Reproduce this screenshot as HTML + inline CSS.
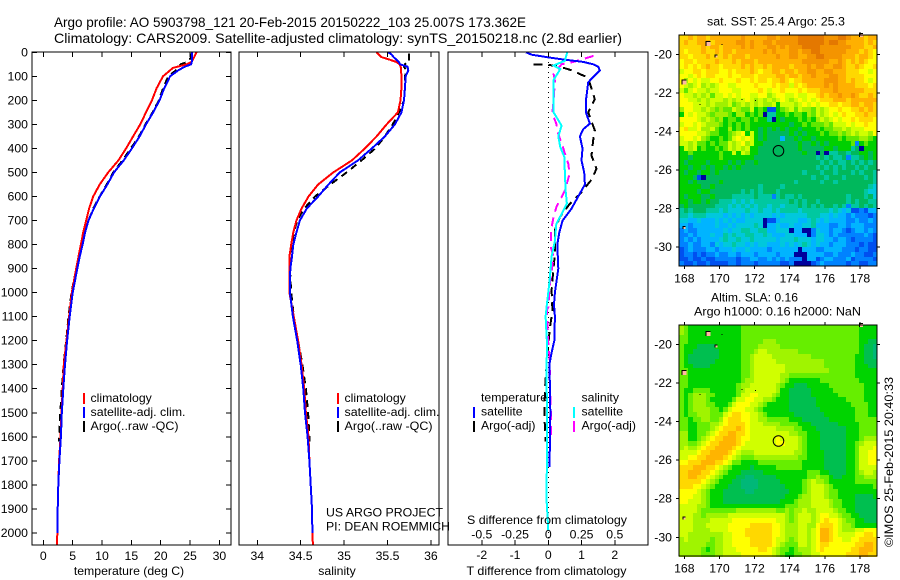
<!DOCTYPE html>
<html>
<head>
<meta charset="utf-8">
<title>Argo profile</title>
<style>
html,body{margin:0;padding:0;background:#fff;}
svg{display:block;}
text{font-family:"Liberation Sans",sans-serif;font-size:12.25px;fill:#000;}
.ttl{font-size:14px;}
.frame{fill:none;stroke:#000;stroke-width:1;shape-rendering:crispEdges;}
.lg{shape-rendering:crispEdges;}
</style>
</head>
<body>
<svg id="chart" width="900" height="580" viewBox="0 0 900 580" xmlns="http://www.w3.org/2000/svg">
<rect x="0" y="0" width="900" height="580" fill="#fff"/>
<g id="maps"></g>
<g id="series"></g>
<g id="axes"></g>

<text class="ttl" x="54" y="27" textLength="472" lengthAdjust="spacingAndGlyphs">Argo profile: AO 5903798_121 20-Feb-2015 20150222_103 25.007S 173.362E</text>
<text class="ttl" x="54" y="43" textLength="568" lengthAdjust="spacingAndGlyphs">Climatology: CARS2009. Satellite-adjusted climatology: synTS_20150218.nc (2.8d earlier)</text>

<text x="129" y="575" text-anchor="middle">temperature (deg C)</text>
<text x="337" y="575" text-anchor="middle">salinity</text>
<text x="466.5" y="575" textLength="160" lengthAdjust="spacingAndGlyphs">T difference from climatology</text>
<text x="467" y="524" textLength="160" lengthAdjust="spacingAndGlyphs">S difference from climatology</text>

<g>
<rect class="lg" x="83" y="393" width="2" height="11" fill="#f00"/>
<rect class="lg" x="83" y="407" width="2" height="11" fill="#00f"/>
<rect class="lg" x="83" y="421" width="2" height="11" fill="#000"/>
<text x="90.5" y="402">climatology</text>
<text x="90.5" y="416" textLength="95" lengthAdjust="spacingAndGlyphs">satellite-adj. clim.</text>
<text x="90.5" y="430" textLength="88" lengthAdjust="spacingAndGlyphs">Argo(..raw -QC)</text>
</g>
<g>
<rect class="lg" x="337" y="393" width="2" height="11" fill="#f00"/>
<rect class="lg" x="337" y="407" width="2" height="11" fill="#00f"/>
<rect class="lg" x="337" y="421" width="2" height="11" fill="#000"/>
<text x="344.5" y="402">climatology</text>
<text x="344.5" y="416" textLength="95" lengthAdjust="spacingAndGlyphs">satellite-adj. clim.</text>
<text x="344.5" y="430" textLength="88" lengthAdjust="spacingAndGlyphs">Argo(..raw -QC)</text>
<text x="326" y="516.5" textLength="117" lengthAdjust="spacingAndGlyphs">US ARGO PROJECT</text>
<text x="326" y="530.5" textLength="124" lengthAdjust="spacingAndGlyphs">PI: DEAN ROEMMICH</text>
</g>
<g>
<text x="481" y="401.5">temperature</text>
<rect class="lg" x="473" y="407" width="2" height="11" fill="#00f"/>
<rect class="lg" x="473" y="421" width="2" height="11" fill="#000"/>
<text x="481" y="415.5">satellite</text>
<text x="481" y="429.5">Argo(-adj)</text>
<text x="581.5" y="401.5">salinity</text>
<rect class="lg" x="573" y="407" width="2" height="11" fill="#0ff"/>
<rect class="lg" x="573" y="421" width="2" height="11" fill="#f0f"/>
<text x="581.5" y="415.5">satellite</text>
<text x="581.5" y="429.5">Argo(-adj)</text>
</g>

<text x="707" y="25.5" textLength="138" lengthAdjust="spacingAndGlyphs">sat. SST: 25.4  Argo: 25.3</text>
<text x="711" y="301.5" textLength="87" lengthAdjust="spacingAndGlyphs">Altim. SLA: 0.16</text>
<text x="694" y="315.5" textLength="167" lengthAdjust="spacingAndGlyphs">Argo h1000: 0.16 h2000: NaN</text>
<text transform="translate(893,547) rotate(-90)" textLength="170" lengthAdjust="spacingAndGlyphs" x="0" y="0">©IMOS 25-Feb-2015 20:40:33</text>

<script>
/* ---------- profile data ---------- */
const climDepth = [0,10,20,30,40,50,65,100,150,200,250,300,350,400,450,500,550,600,650,700,750,800,850,900,1000,1100,1200,1300,1400,1500,1600,1700,1800,1900,2000,2050];
const tempClim = [26.1,25.9,25.7,25.5,25.2,24.4,22.1,20.4,19.3,18.5,17.5,16.5,15.3,14.1,12.8,11.05,9.6,8.5,7.8,7.3,6.8,6.4,6.0,5.6,4.85,4.4,3.95,3.5,3.3,3.1,2.95,2.7,2.55,2.45,2.4,2.3];
const salClim = [35.375,35.4,35.43,35.52,35.6,35.64,35.655,35.66,35.66,35.65,35.62,35.49,35.375,35.24,35.09,34.875,34.7,34.59,34.51,34.45,34.415,34.39,34.37,34.37,34.37,34.42,34.47,34.51,34.54,34.56,34.59,34.6,34.615,34.63,34.635,34.64];

const satDepth = [0,10,20,30,40,50,60,75,100,150,200,250,300,350,400,450,500,550,600,650,700,750,800,850,900,1000,1100,1200,1300,1400,1500,1600,1700,1800,1900,2000];
const tempSat = [25.3,25.3,25.3,25.3,25.3,25.2,24.1,23.0,21.6,20.6,19.8,18.7,17.5,16.4,15.1,13.7,12.05,10.9,9.65,8.6,7.7,7.1,6.7,6.2,5.8,5.0,4.5,4.05,3.7,3.4,3.15,3.0,2.75,2.55,2.45,2.4];
const salSat = [35.51,35.55,35.57,35.6,35.63,35.645,35.73,35.74,35.71,35.7,35.69,35.66,35.585,35.47,35.32,35.16,34.95,34.82,34.7,34.57,34.49,34.45,34.415,34.4,34.38,34.375,34.41,34.46,34.5,34.53,34.55,34.58,34.6,34.615,34.63,34.635];

const argoDepth = [4,20,40,50,60,75,100,150,200,260,300,350,400,450,500,550,600,650,700,750,800,900,1000,1100,1200,1300,1400,1500,1600,1620];
const tempArgo = [25.3,25.2,24.6,23.4,23.0,22.6,21.3,20.4,19.7,18.4,17.4,16.3,14.9,13.5,11.9,10.8,9.6,8.5,7.7,7.1,6.6,5.6,4.8,4.3,3.9,3.45,3.15,2.9,2.7,2.65];
const salArgo = [35.75,35.75,35.75,35.7,35.69,35.72,35.7,35.7,35.69,35.62,35.56,35.47,35.36,35.2,35.03,34.84,34.665,34.54,34.46,34.42,34.4,34.375,34.39,34.42,34.47,34.52,34.56,34.585,34.6,34.6];

/* ---------- difference data ---------- */
const tDiffSatDepth = [0,10,20,30,40,50,60,75,100,125,150,200,250,297,320,350,400,450,500,550,600,650,700,750,800,900,1000,1050,1100,1200,1250,1300,1400,1500,1600,1700,1725];
const tDiffSat = [-0.67,-0.5,-0.05,0.45,1.05,1.35,1.5,1.55,1.37,1.2,1.18,1.13,1.13,1.25,1.05,0.95,1.03,1.0,1.08,1.1,0.9,0.7,0.43,0.33,0.27,0.3,0.2,0.17,0.2,0.18,0.1,0.03,0.05,0.06,0.05,0.04,0.04];
const tDiffArgoDepth = [50,52,60,75,100,110,150,195,250,325,366,430,485,530,590,630,685,740,840,905,990,1060,1073,1143,1213,1300,1400,1500,1600,1620];
const tDiffArgo = [-0.45,0,0.35,0.7,1.1,1.2,1.3,1.4,1.2,1.4,1.35,1.3,1.45,1.3,0.95,0.65,0.35,0.2,0.2,0.15,0.1,0.12,0.13,0.05,0,-0.05,-0.1,-0.12,-0.09,-0.09];
const sDiffArgoDepth = [15,40,50,90,120,200,255,297,340,395,465,505,575,645,685,740,815,850,975,1060,1073,1213,1270,1400,1515,1610];
const sDiffArgo = [0.34,0.19,0.1,0.04,0.05,0.04,0.03,0.06,0.075,0.11,0.15,0.16,0.125,0.06,0.04,0.02,0.02,0.04,0.01,0,-0.01,0,0.01,0.0125,0.02,0.02];
const sDiffSatDepth = [0,5,35,55,70,115,185,250,305,350,395,435,505,575,630,715,785,850,950,1060,1100,1213,1310,1587,1865,1990];
const sDiffSat = [0.14,0.14,0.125,0.04,0.09,0.04,0.04,0.04,0.1,0.075,0.09,0.12,0.125,0.13,0.14,0.06,0.05,0.025,0.01,-0.0125,-0.02,-0.01,-0.0125,-0.01,-0.0125,0];

/* ---------- tick labels ---------- */
const tempTicks = [0,5,10,15,20,25,30];
const salTicks = [34,34.5,35,35.5,36];
const tDiffTicks = [-2,-1,0,1,2];
const sDiffTicks = [-0.5,-0.25,0,0.25,0.5];
const depthTicks = [0,100,200,300,400,500,600,700,800,900,1000,1100,1200,1300,1400,1500,1600,1700,1800,1900,2000];
const lonTicks = [168,170,172,174,176,178];
const latTicks = [-20,-22,-24,-26,-28,-30];

/* ---------- SST map: one colour-class digit per 0.25 degree cell ---------- */
const sstGrid = [
"ccdcd dcddd dddde ddddd eedee eefff fffee effed ddcdd",
"cdccd ddcdd dddee dedde edeee eefff fffef feedd ddcdc",
"ccccc dcddc dddde deddd eeded eeeff ffeee eeeed ddccd",
"cbccc dccdc ddcdd dddde deddd eedee ffeee eeedd dcdcb",
"ccbcc cdccc dcddd cdddd ddedd eedde effee eeddd cddcb",
"bccbc cccdc ccdcd ddcdd ddddd dddee eeeed dedcd cdcbb",
"bcbcb cdccb ccccd cdccd cdddd cddde deedd eedcc dcbbc",
"abbcc bcccb bcbcc cdcbc cddcd dcdde eddee dddcc cbbab",
"bbabc bccbb bcbbc ccbcc ccddc ddcdd eddde eddcc ccbbb",
"b9bab aabbc bbbcb bcbcc bccdc bccdd dddee eddcd ccbab",
"ba9ab 9a9ab baabb bbcbb bcbcc acbcd ddded edddd cccbc",
"a8aba a9aab bbaab bbbcb abbcb bbcbc ccddd edddd ddccc",
"baa9a 9a8aa babab baabb 9abba abaab bcdcd dedde dccdc",
"bbaa9 a9aaa 9a9aa ba9a9 a9aba 9abab abccc dddcd ddddd",
"bbbaa a9a99 9a89a 9a9a9 9a7aa a9aba babbc cbccd dcddc",
"9bbaa 9a989 88a98 8a787 11789 a8a99 8a9ab bcbbc cdcdc",
"7baba a9899 98799 78780 55778 78879 8a9ab abcbb ccdcc",
"bbbba 9a989 78878 87877 50767 77878 79a9a babbc bcccb",
"abbab a9998 78787 87777 77777 67787 88898 aaaba bbcbb",
"bcaab 99a87 79787 87767 67676 77677 78788 99a9a aabbb",
"bbbba a9887 789ab 7a767 66666 76767 77878 8989a 9aa9b",
"abbab 98778 78aba ba767 66636 67677 67777 78788 89987",
"aa9a8 87878 8a9ab 9a776 66666 66766 76767 77778 27877",
"7a9a7 87787 8a9a9 a7766 66666 66766 66677 67775 60777",
"77877 77778 77a7a 97766 66666 66676 60605 56656 67767",
"77677 77778 77777 77666 66666 66666 65656 55625 56767",
"76777 76777 76767 66766 66666 66666 66565 65565 65656",
"77677 67677 67676 66666 66666 66666 65656 56566 56566",
"76776 77676 66666 66666 66666 66656 66566 56665 65665",
"77761 06666 66666 66666 66666 66666 56656 66566 66565",
"77676 66667 66666 66666 66666 65666 66566 56666 66665",
"77777 66766 66666 66656 66656 66666 66666 66666 66654",
"77776 77666 66665 65656 66566 66666 66666 66666 66544",
"76777 66766 66555 55655 52565 56566 66666 66656 66564",
"77677 67665 55454 54555 55555 65656 65666 66656 56655",
"67666 66655 54545 45455 45545 55656 56566 56525 56565",
"56566 65554 54444 54454 45455 55455 55554 54341 12133",
"55455 54444 34343 43444 43434 44445 55443 43323 22212",
"44334 33343 43433 44440 11344 44334 54343 33322 32232",
"33233 33343 34344 44540 33433 43344 53332 23323 33222",
"23223 33333 43445 54455 33444 03300 24332 33212 33232",
"22323 33433 54544 55445 43334 43330 24432 32222 22321",
"23232 33334 54454 45444 44344 45444 34433 23321 22221",
"22322 33243 44544 34344 33343 43454 34332 33322 21211",
"12322 23323 33433 43333 23333 33033 32233 33222 12211",
"12212 12232 23323 33233 33233 30003 33322 32223 22112",
"11211 21122 22212 23322 32323 22203 31233 22231 22221",
"21121 12111 12212 22122 22211 20000 12322 22212 21122"
];

/* ---------- SLA map ---------- */
const slaGrid = [
"98777 77777 77778 88888 88888 88888 88888 88888 87777",
"98777 77777 77778 88888 88888 88888 88888 88888 87777",
"88777 77777 77778 88888 88888 88888 88888 88888 87777",
"88777 77777 77778 88889 99888 88888 88888 88888 87766",
"87776 66677 77778 88899 99988 88888 88888 88888 87665",
"87766 66667 77778 889aa 99999 99888 88888 88888 87665",
"87666 66667 77778 89aaa a9999 99999 88888 88888 77665",
"87666 66677 77778 89aaa aa999 99999 99988 88888 77666",
"87766 66777 77778 89aaa aaaa9 99999 99988 88888 77766",
"88777 77777 77778 89aaa aaaa9 99999 99998 88888 77777",
"88777 77777 77778 89aaa aaa99 88888 88888 88888 77777",
"88777 77777 77778 99aaa aaa98 77777 77888 88888 87777",
"88777 77777 77789 9aaaa aa987 76667 77778 88888 88777",
"87788 88777 77789 aaaaa aa977 66666 77777 88888 88777",
"87899 98877 7778a abbaa a9877 66666 77777 78888 88777",
"87899 98777 778aa bbaa9 98777 66666 67777 77788 88777",
"87899 98877 78abb baa98 77777 66666 67777 77778 88877",
"87899 99887 8abbb aa987 77777 66666 66777 77777 88877",
"87889 99888 abccb baa98 77777 76666 66677 77777 88877",
"88788 99889 bcccb baa99 88888 77766 66667 77777 88888",
"88778 8899a bcccc baaa9 99988 88777 66666 67777 78888",
"88778 889ab cccdc baaaa aa999 98877 76666 66677 78888",
"99778 89abc cddcc baaaa aaaaa 99887 77666 66677 78888",
"99778 9abcc dddcb baaaa aabaa aa987 77666 66677 78999",
"99889 abccd dddcb aaaaa aabba aa987 77666 66677 89aaa",
"9a99a bccdd ddcba aaaaa aaaaa aa987 77666 66677 8aaab",
"aaaab ccddd dcba9 99aaa aaaaa a9987 77766 66677 8aabb",
"aabbc cdddd cba98 88999 99999 99887 77766 66677 8aabb",
"bbccc dddcc ba887 77788 88888 88877 77766 66677 8aabb",
"cccdd dccba 98777 76777 77888 88877 77766 66677 8aaaa",
"ccddd ccba9 87776 66667 77777 77778 88776 66677 89aa9",
"ccddc cba98 77766 55666 66777 77778 89887 66777 88999",
"ccccc ba987 77665 55566 66677 77789 a9987 77777 88888",
"cccbb a9877 76665 55566 66667 77789 aaa98 77777 77778",
"bbbba 98777 66666 55666 66666 77789 aaa98 87777 77777",
"bbbaa 98777 66666 66666 66667 77899 aaa98 87777 66667",
"bbaaa 98777 66666 66666 66677 78999 aaaa9 88777 66666",
"aaaa9 98777 77777 77777 77778 88999 aaaa9 88777 66666",
"aaaa9 88888 88899 99999 99889 899a9 9aaaa 98877 66666",
"aaa99 89999 9aaaa aaaaa aaaa9 89aaa 9abba a9887 76666",
"aaa99 99aaa aabbb bbbbb bbaa9 89aaa 9abcb ba988 77666",
"aaa99 9aaaa abbbb bcccc cbba9 99aa9 9bccc ba998 77777",
"aaa99 99aaa abbbb ccccc cbba9 99aa9 abddc ba999 aabbb",
"aa999 99999 aabbb ccccc cbba9 99aa9 abddc baaaa bbccb",
"9a999 99899 aabbb bcccc cbaa9 89aa9 abddc bbaab bcccc",
"99999 98899 aabbb bcccc cba98 88aa9 abccb bbbbb ccddc",
"99999 87899 aaabb bbbcc ba988 78999 abcbb bbbbc cdddc",
"99999 88899 aaaab bbbbb ba987 78899 aabbb bbbcc cddcc"
];

/* ---------- map annotations: islands and profile location ---------- */
const islandLon = [169.4,168.05,169.85,168.05,178.1,171.35,172.1,168.95,170.2];
const islandLat = [-19.5,-21.5,-20.15,-29.05,-19.05,-22.4,-22.45,-22.65,-19.55];
const islandSize = [5,5,3,3,4,1,1,1,1];
const profileLon = 173.36;
const profileLat = -25.01;

/* ---------- colour classes ---------- */
const sstPalette = {
  '0':'#00009c','1':'#0050f0','2':'#0082ff','3':'#00b4ff','4':'#00c8dc','5':'#00c8a0','6':'#00b85c','7':'#00d000',
  '8':'#60e800','9':'#a0f000','a':'#d0ff00','b':'#ffff00','c':'#ffd800','d':'#ffb000','e':'#f49400','f':'#e47800'
};
const slaPalette = {
  '5':'#00b878','6':'#00bf50','7':'#00d400',
  '8':'#66ee00','9':'#a0f400','a':'#d0ff00','b':'#ffff00','c':'#ffd800','d':'#ffb400','e':'#f49400'
};

/* ---------- axis functions ---------- */
const xTemp = v => 43.3 + 5.87 * v;
const xSal = v => 257.3 + 86.8 * (v - 34);
const xTDiff = v => 548.3 + 33.25 * v;
const xSDiff = v => 548.3 + 133 * v;
const yDepth = d => 52.3 + 0.2403 * d;
const xLon = v => 684.3 + 17.57 * (v - 168);
const ySst = v => 54.3 + 19.27 * (-20 - v);
const ySla = v => 344.3 + 19.3 * (-20 - v);

const NS = 'http://www.w3.org/2000/svg';
const seriesG = document.getElementById('series');
const axesG = document.getElementById('axes');
const mapsG = document.getElementById('maps');

function make(tag, attrs, parent) {
  const e = document.createElementNS(NS, tag);
  for (const k in attrs) e.setAttribute(k, attrs[k]);
  parent.appendChild(e);
  return e;
}

function drawLine(xs, ds, xf, color, width, dash, name) {
  const pts = xs.map((v, i) => xf(v).toFixed(1) + ',' + yDepth(ds[i]).toFixed(1));
  const el = make('polyline', {points: pts.join(' '), fill: 'none', stroke: color, 'stroke-width': width, 'shape-rendering': 'crispEdges'}, seriesG);
  if (dash) el.setAttribute('stroke-dasharray', dash);
  
  
}

function drawTick(x1, y1, x2, y2) {
  const el = make('line', {x1, y1, x2, y2, stroke: '#000', 'stroke-width': 1, 'shape-rendering': 'crispEdges'}, axesG);
  
  
}

function drawLabel(x, y, str, anchor) {
  const el = make('text', {x, y, 'text-anchor': anchor}, axesG);
  el.textContent = str;
  
  
}

function drawFrame(x, y, w, h, name) {
  const el = make('rect', {x, y, width: w, height: h, class: 'frame'}, axesG);
  
  
}

/* profile panels */
drawLine(tempArgo, argoDepth, xTemp, '#000', 2, '7 5', 'temperature-argo-line');
drawLine(tempClim, climDepth, xTemp, '#f00', 2, null, 'temperature-climatology-line');
drawLine(tempSat, satDepth, xTemp, '#00f', 2, null, 'temperature-satellite-line');

drawLine(salArgo, argoDepth, xSal, '#000', 2, '7 5', 'salinity-argo-line');
drawLine(salClim, climDepth, xSal, '#f00', 2, null, 'salinity-climatology-line');
drawLine(salSat, satDepth, xSal, '#00f', 2, null, 'salinity-satellite-line');

const zeroLine = make('line', {x1: xTDiff(0), y1: 52, x2: xTDiff(0), y2: 545, stroke: '#000', 'stroke-width': 1, 'stroke-dasharray': '1 4', 'shape-rendering': 'crispEdges'}, seriesG);



drawLine(tDiffArgo, tDiffArgoDepth, xTDiff, '#000', 2, '9 6', 't-difference-argo-line');
drawLine(sDiffArgo, sDiffArgoDepth, xSDiff, '#f0f', 2, '9 6', 's-difference-argo-line');
drawLine(tDiffSat, tDiffSatDepth, xTDiff, '#00f', 2, null, 't-difference-satellite-line');
drawLine(sDiffSat, sDiffSatDepth, xSDiff, '#0ff', 2, null, 's-difference-satellite-line');

/* panel frames */
drawFrame(32, 52, 199, 493, 'temperature-panel-frame');
drawFrame(239, 52, 200, 493, 'salinity-panel-frame');
drawFrame(448, 52, 200, 493, 'difference-panel-frame');

/* temperature axis */
tempTicks.forEach(v => {
  drawTick(xTemp(v), 52, xTemp(v), 57);
  drawTick(xTemp(v), 540, xTemp(v), 545);
  drawLabel(xTemp(v), 560, String(v), 'middle');
});
depthTicks.forEach(d => {
  drawTick(32, yDepth(d), 37, yDepth(d));
  drawTick(226, yDepth(d), 231, yDepth(d));
  drawLabel(28, yDepth(d) + 4, String(d), 'end');
});

/* salinity axis */
salTicks.forEach(v => {
  drawTick(xSal(v), 52, xSal(v), 57);
  drawTick(xSal(v), 540, xSal(v), 545);
  drawLabel(xSal(v), 560, String(v), 'middle');
});

/* difference axes */
tDiffTicks.forEach(v => {
  drawTick(xTDiff(v), 52, xTDiff(v), 57);
  drawTick(xTDiff(v), 540, xTDiff(v), 545);
  drawLabel(xTDiff(v), 559, String(v), 'middle');
});
sDiffTicks.forEach(v => {
  drawLabel(xSDiff(v), 538.5, String(v), 'middle');
});

/* maps */
function drawMap(grid, colours, yf, top, bottom, name, frameName) {
  const g = make('g', {'shape-rendering': 'crispEdges'}, mapsG);
  
  
  grid.forEach((raw, r) => {
    const row = raw.replace(/ /g, '');
    for (let c = 0; c < row.length; c++) {
      const lonL = 167.72 + 0.25 * c;
      const latT = -19 - 0.25 * r;
      const x0 = Math.round(xLon(lonL));
      const x1 = Math.round(xLon(lonL + 0.25));
      const y0 = Math.round(yf(latT));
      const y1 = Math.round(yf(latT - 0.25));
      const cell = make('rect', {x: x0, y: y0, width: x1 - x0, height: y1 - y0, fill: colours[row[c]]}, g);
      
      
    }
  });
  islandLon.forEach((lon, i) => {
    const s = islandSize[i];
    const dark = make('rect', {x: xLon(lon) - s / 2 - 1, y: yf(islandLat[i]) - s / 2 - 1, width: s, height: s, fill: '#000'}, g);
    
    
    if (s > 2) {
      const land = make('rect', {x: xLon(lon) - s / 2, y: yf(islandLat[i]) - s / 2, width: s - 1, height: s - 1, fill: '#ffb8a0'}, g);
      
      
    }
  });
  const marker = make('circle', {cx: xLon(profileLon), cy: yf(profileLat), r: 5.3, fill: 'none', stroke: '#000', 'stroke-width': 1}, mapsG);
  
  

  drawFrame(679, top, 198, bottom - top, frameName);
  lonTicks.forEach(v => {
    drawTick(xLon(v), top - 3, xLon(v), top);
    drawTick(xLon(v), bottom, xLon(v), bottom + 3);
    drawLabel(xLon(v), bottom + 16.5, String(v), 'middle');
  });
  latTicks.forEach(v => {
    drawTick(676, yf(v), 679, yf(v));
    drawTick(877, yf(v), 880, yf(v));
    drawLabel(672, yf(v) + 4, '-' + Math.abs(v), 'end');
  });
}
drawMap(sstGrid, sstPalette, ySst, 35, 266, 'sst-map', 'sst-map-frame');
drawMap(slaGrid, slaPalette, ySla, 325, 556, 'sla-map', 'sla-map-frame');
</script>
</svg>
</body>
</html>
